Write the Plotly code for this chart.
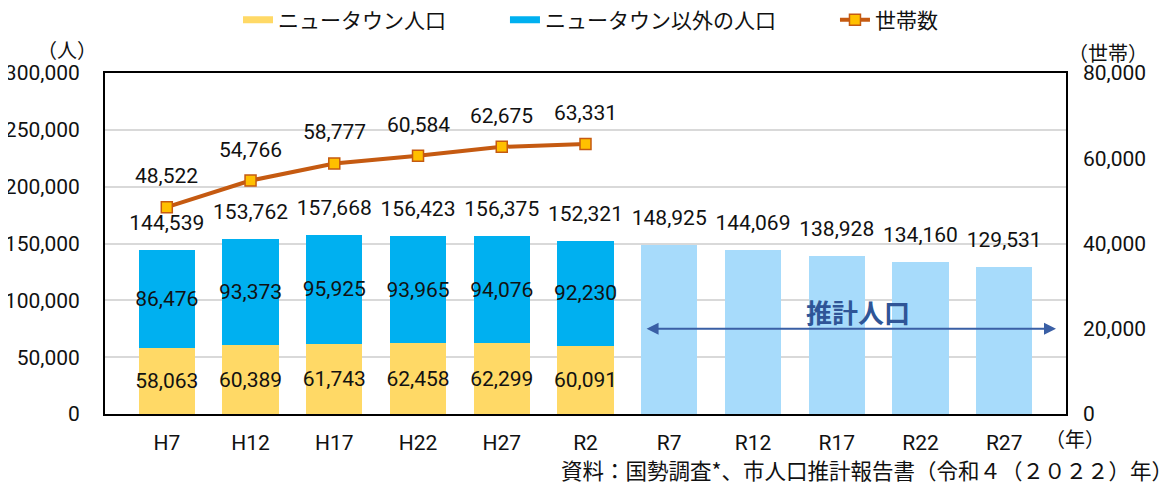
import plotly.graph_objects as go

# 年次区分
years = ["H7", "H12", "H17", "H22", "H27", "R2", "R7", "R12", "R17", "R22", "R27"]
actual_years = years[:6]
future_years = years[6:]

# 人口（人）
newtown_pop = [58063, 60389, 61743, 62458, 62299, 60091]
other_pop = [86476, 93373, 95925, 93965, 94076, 92230]
projected_pop = [148925, 144069, 138928, 134160, 129531]

# 世帯数
households = [48522, 54766, 58777, 60584, 62675, 63331]

num_font = "Roboto, Noto Sans CJK JP"
jp_font = "Noto Sans CJK JP"
num_size = 21
txt = "#111111"

yellow = "#FFD966"
blue = "#00B0F0"
light_blue = "#A7DBFB"
brown = "#C55A11"

totals = [a + b for a, b in zip(newtown_pop, other_pop)] + projected_pop

fig = go.Figure()

fig.add_trace(go.Bar(
    x=actual_years, y=newtown_pop, name="ニュータウン人口", showlegend=False,
    marker=dict(color=yellow, line=dict(width=0)),
    text=newtown_pop, texttemplate="%{y:,}", textposition="inside",
    insidetextanchor="middle", textangle=0, constraintext="none",
    textfont=dict(family=num_font, size=num_size, color=txt),
    width=0.67,
))
fig.add_trace(go.Bar(
    x=actual_years, y=other_pop, name="ニュータウン以外の人口", showlegend=False,
    marker=dict(color=blue, line=dict(width=0)),
    text=other_pop, texttemplate="%{y:,}", textposition="inside",
    insidetextanchor="middle", textangle=0, constraintext="none",
    textfont=dict(family=num_font, size=num_size, color=txt),
    width=0.67,
))
fig.add_trace(go.Bar(
    x=future_years, y=projected_pop, name="推計人口", showlegend=False,
    marker=dict(color=light_blue, line=dict(width=0)),
    width=0.67,
))

# 合計ラベル
fig.add_trace(go.Scatter(
    x=years, y=totals, mode="markers+text", showlegend=False,
    marker=dict(size=22, color="rgba(0,0,0,0)"),
    text=[f"{v:,}" for v in totals], textposition="top center",
    textfont=dict(family=num_font, size=num_size, color=txt),
    cliponaxis=False, hoverinfo="skip",
))

fig.add_trace(go.Scatter(
    x=actual_years, y=households, name="世帯数", yaxis="y2",
    mode="lines+markers", legend="legend3",
    line=dict(color=brown, width=4),
    marker=dict(symbol="square", size=11, color="#FFC000",
                line=dict(color=brown, width=1.5)),
    cliponaxis=False,
))

# 凡例用（帯状の見本）
fig.add_trace(go.Scatter(x=[None], y=[None], mode="lines", name="ニュータウン人口",
                         line=dict(color=yellow, width=7), legend="legend"))
fig.add_trace(go.Scatter(x=[None], y=[None], mode="lines", name="ニュータウン以外の人口",
                         line=dict(color=blue, width=7), legend="legend2"))

for yr, v in zip(actual_years, households):
    fig.add_annotation(x=yr, y=v, yref="y2", text=f"{v:,}", showarrow=False,
                       yshift=31, font=dict(family=num_font, size=num_size, color=txt))

# 推計人口 矢印
fig.add_annotation(xref="x domain", yref="y domain", x=0.9896, y=0.25,
                   axref="x domain", ayref="y domain", ax=0.562, ay=0.25,
                   text="", showarrow=True, arrowside="end+start",
                   arrowhead=2, arrowsize=1.2, arrowwidth=2, arrowcolor="#3A5FA5")
fig.add_annotation(xref="paper", yref="paper", x=0.784, y=0.30,
                   xanchor="center", yanchor="middle",
                   text="<b>推計人口</b>", showarrow=False,
                   font=dict(family=jp_font, size=26, color="#2F5597"))

# 単位・出典
fig.add_annotation(xref="paper", yref="paper", x=-0.040, y=1.068,
                   xanchor="center", yanchor="middle",
                   text="（人）", showarrow=False,
                   font=dict(family=jp_font, size=20, color=txt))
fig.add_annotation(xref="paper", yref="paper", x=1.0437, y=1.06,
                   xanchor="center", yanchor="middle",
                   text="（世帯）", showarrow=False,
                   font=dict(family=jp_font, size=20, color=txt))
fig.add_annotation(xref="paper", yref="paper", x=1.009, y=-0.072,
                   xanchor="center", yanchor="middle",
                   text="（年）", showarrow=False,
                   font=dict(family=jp_font, size=20, color=txt))
fig.add_annotation(xref="paper", yref="paper", x=1.1134, y=-0.162, xanchor="right",
                   yanchor="middle",
                   text="資料：国勢調査*、市人口推計報告書（令和４（２０２２）年）",
                   showarrow=False, font=dict(family=jp_font, size=21.5, color=txt))

leg = dict(orientation="h", y=1.155, yanchor="middle", xanchor="left",
           font=dict(family=jp_font, size=21, color=txt), bgcolor="rgba(0,0,0,0)")

fig.update_layout(
    width=1168, height=479,
    margin=dict(l=97, r=110, t=65, b=73, autoexpand=False),
    barmode="stack",
    bargap=0.33,
    plot_bgcolor="white", paper_bgcolor="white",
    font=dict(family=num_font, size=num_size, color=txt),
    legend=dict(leg, x=0.1384),
    legend2=dict(leg, x=0.4162),
    legend3=dict(leg, x=0.7596),
    xaxis=dict(categoryorder="array", categoryarray=years,
               showline=True, mirror=True, linecolor="black", linewidth=2,
               ticks="", ticklabelstandoff=9, automargin=False,
               tickfont=dict(family=num_font, size=num_size)),
    yaxis=dict(range=[0, 300000], tickvals=[0, 50000, 100000, 150000, 200000, 250000, 300000],
               tickformat=",", showline=True, mirror=True, linecolor="black", linewidth=2,
               showgrid=True, gridcolor="#D9D9D9", gridwidth=1.5, zeroline=False,
               automargin=False, ticklabelstandoff=19,
               tickfont=dict(family=num_font, size=num_size)),
    yaxis2=dict(range=[0, 80000], tickvals=[0, 20000, 40000, 60000, 80000],
                tickformat=",", overlaying="y", side="right", showgrid=False,
                zeroline=False, showline=False, ticklabelstandoff=16, automargin=False,
                tickfont=dict(family=num_font, size=num_size)),
)

fig.write_html("out.html")
